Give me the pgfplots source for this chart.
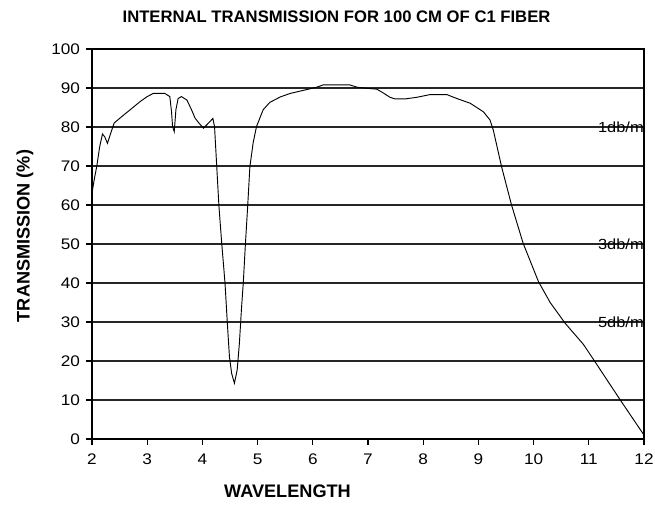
\documentclass[border=0pt]{standalone}
\usepackage{fontspec}
\setmainfont{Liberation Sans}
\newfontfamily\tickfont[FakeStretch=1.12]{Liberation Sans}
\usepackage{pgfplots}
\pgfplotsset{compat=1.18}
\begin{document}
\begin{tikzpicture}
\useasboundingbox (-69pt,-50.25pt) rectangle (422.25pt,329.25pt);
\begin{axis}[
  at={(0,0)}, anchor=south west,
  scale only axis, width=414pt, height=292.5pt,
  xmin=2, xmax=12, ymin=0, ymax=100,
  xtick={2,3,...,12}, ytick={0,10,...,100},
  tick pos=left, tick align=outside, major tick length=4.5pt,
  ymajorgrids, grid style={black!85, line width=0.85pt},
  axis line style={black, line width=0.85pt},
  tick style={black, line width=0.85pt},
  ticklabel style={font=\tickfont\fontsize{11.5}{13}\selectfont},
  xticklabel style={yshift=-3pt},
  yticklabel style={xshift=-1pt},
  /pgf/number format/assume math mode=true,
  clip=false,
]
\addplot[black, line width=0.7pt] coordinates {
(2.00,63) (2.04,66.5) (2.085,69.8) (2.14,75) (2.19,78.2) (2.23,77.5) (2.28,75.8)
(2.33,78) (2.40,81) (2.55,82.8) (2.69,84.4) (2.87,86.5) (3.00,87.8) (3.11,88.6)
(3.32,88.6) (3.41,87.8) (3.44,84) (3.46,80.1) (3.49,78.8) (3.52,84.4) (3.56,87.3)
(3.62,87.8) (3.72,86.9) (3.80,84.5) (3.87,82.2) (3.95,80.8) (4.02,79.7) (4.11,81)
(4.19,82.2) (4.22,80.1) (4.26,69.8) (4.30,59.6) (4.35,50.2) (4.41,39.9) (4.45,30.1)
(4.49,21.1) (4.53,16.8) (4.58,14.3) (4.63,17.7) (4.67,24.5) (4.71,33.9) (4.74,39.9)
(4.78,50.2) (4.82,59.6) (4.86,69.8) (4.92,76) (4.98,80.1) (5.10,84.4) (5.22,86.3)
(5.41,87.7) (5.59,88.6) (5.86,89.5) (6.07,90.2) (6.19,90.8) (6.67,90.8) (6.80,90.2)
(6.92,90) (7.16,89.7) (7.28,88.7) (7.40,87.6) (7.49,87.2) (7.67,87.2) (7.88,87.6)
(8.12,88.3) (8.43,88.3) (8.61,87.3) (8.85,86.1) (9.09,83.9) (9.21,81.8) (9.27,79.2)
(9.42,69.8) (9.60,60) (9.81,50.2) (10.09,40.3) (10.30,35.0) (10.57,29.7) (10.90,24.3)
(11.08,20.5) (11.57,10) (12.0,1)
};
\node[anchor=east, inner sep=0pt, font=\tickfont\fontsize{11}{12}\selectfont] at (axis cs:12,80) {1db/m};
\node[anchor=east, inner sep=0pt, font=\tickfont\fontsize{11}{12}\selectfont] at (axis cs:12,50) {3db/m};
\node[anchor=east, inner sep=0pt, font=\tickfont\fontsize{11}{12}\selectfont] at (axis cs:12,30) {5db/m};
\end{axis}
\node[font=\bfseries\fontsize{12.5}{14}\selectfont] at (183.4pt,316.9pt) {INTERNAL TRANSMISSION FOR 100 CM OF C1 FIBER};
\node[font=\bfseries\fontsize{13.6}{15}\selectfont] at (146.6pt,-39.5pt) {WAVELENGTH};
\node[rotate=90, font=\bfseries\fontsize{13.6}{15}\selectfont] at (-50.25pt,152.25pt) {TRANSMISSION (\%)};
\end{tikzpicture}
\end{document}
